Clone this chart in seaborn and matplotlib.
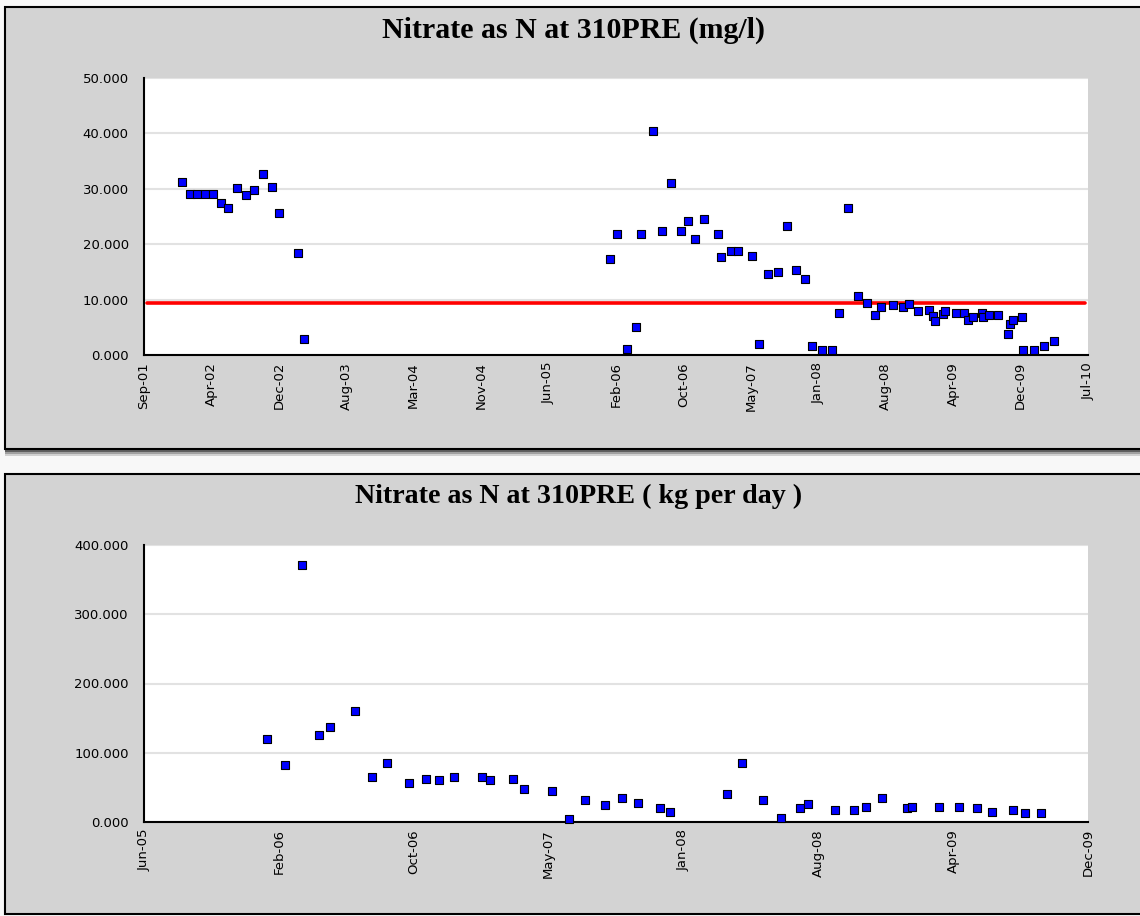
import matplotlib
matplotlib.use("Agg")
import matplotlib.pyplot as plt
import matplotlib.dates as mdates
from matplotlib.patches import Rectangle
from matplotlib.ticker import FixedLocator, MultipleLocator, FormatStrFormatter
import numpy as np
import pandas as pd
import seaborn as sns

# --- concentration (mg/l) ---
conc_dates = [
    "2002-01-08", "2002-02-06", "2002-03-01", "2002-03-29", "2002-04-25", "2002-05-23",
    "2002-06-16", "2002-07-15", "2002-08-14", "2002-09-12", "2002-10-13", "2002-11-12",
    "2002-12-06", "2003-02-09", "2003-03-02",
    "2006-01-10", "2006-02-04", "2006-03-09", "2006-04-08", "2006-04-26", "2006-06-06",
    "2006-07-06", "2006-08-05", "2006-09-11", "2006-10-04", "2006-10-27", "2006-11-26",
    "2007-01-13", "2007-01-25", "2007-03-01", "2007-03-23", "2007-05-10", "2007-06-03",
    "2007-07-03", "2007-08-06", "2007-09-07", "2007-10-07", "2007-11-06", "2007-11-30",
    "2008-01-05", "2008-02-09", "2008-03-02", "2008-04-01", "2008-05-07", "2008-06-05",
    "2008-07-04", "2008-07-24", "2008-09-03", "2008-10-07", "2008-10-27", "2008-11-26",
    "2009-01-05", "2009-01-16", "2009-01-26", "2009-02-20", "2009-03-01", "2009-04-06",
    "2009-05-04", "2009-05-18", "2009-06-04", "2009-07-03", "2009-07-06", "2009-07-29",
    "2009-08-27", "2009-09-30", "2009-10-06", "2009-10-19", "2009-11-17", "2009-11-21",
    "2009-12-27", "2010-02-01", "2010-03-08",
]
conc_values = [
    31.3, 29.1, 29.1, 29.1, 29.1, 27.5,
    26.6, 30.1, 28.9, 29.8, 32.6, 30.4,
    25.7, 18.5, 2.9,
    17.3, 21.9, 1.0, 5.05, 21.9, 40.5,
    22.3, 31.0, 22.3, 24.2, 21.0, 24.5,
    21.9, 17.6, 18.8, 18.8, 17.9, 1.9,
    14.7, 15.0, 23.2, 15.4, 13.8, 1.55,
    0.83, 0.83, 7.5, 26.6, 10.7, 9.4,
    7.2, 8.7, 9.1, 8.7, 9.2, 7.9,
    8.2, 7.1, 6.1, 7.4, 8.0, 7.5,
    7.5, 6.4, 6.9, 7.5, 6.8, 7.2,
    7.2, 3.8, 5.6, 6.3, 6.9, 0.9,
    0.9, 1.6, 2.6,
]
guideline = 9.4
conc_ticks = ["Sep-01", "Apr-02", "Dec-02", "Aug-03", "Mar-04", "Nov-04", "Jun-05", "Feb-06",
              "Oct-06", "May-07", "Jan-08", "Aug-08", "Apr-09", "Dec-09", "Jul-10"]

# --- load (kg per day) ---
load_dates = [
    "2006-01-01", "2006-02-01", "2006-03-04", "2006-04-01", "2006-04-21", "2006-06-03",
    "2006-07-03", "2006-07-30", "2006-09-05", "2006-10-05", "2006-10-27", "2006-11-23",
    "2007-01-11", "2007-01-25", "2007-03-05", "2007-03-25", "2007-05-13", "2007-06-11",
    "2007-07-09", "2007-08-13", "2007-09-11", "2007-10-10", "2007-11-16", "2007-12-04",
    "2008-03-12", "2008-04-08", "2008-05-14", "2008-06-14", "2008-07-17", "2008-07-31",
    "2008-09-17", "2008-10-19", "2008-11-09", "2008-12-07", "2009-01-20", "2009-01-29",
    "2009-03-17", "2009-04-21", "2009-05-22", "2009-06-17", "2009-07-24", "2009-08-14",
    "2009-09-10",
]
load_values = [
    120, 82, 371, 125, 137, 160,
    65, 85, 57, 62, 60, 65,
    65, 60, 62, 47, 45, 5,
    32, 24.5, 34, 27, 20, 15,
    40, 85, 32, 6, 20, 26,
    17, 17, 22, 34, 20, 22,
    22, 22, 20, 15, 17, 12.5,
    12.5,
]
load_ticks = ["Jun-05", "Feb-06", "Oct-06", "May-07", "Jan-08", "Aug-08", "Apr-09", "Dec-09"]

conc_df = pd.DataFrame({"date": pd.to_datetime(conc_dates), "value": conc_values})
load_df = pd.DataFrame({"date": pd.to_datetime(load_dates), "value": load_values})

sns.set_style("white")
plt.rcParams["font.family"] = ["DejaVu Sans"]
plt.rcParams["text.color"] = "black"

W, H = 1140, 916
fig = plt.figure(figsize=(W / 100, H / 100), dpi=100)
fig.patch.set_facecolor("#f8f8f8")

bg = "#d3d3d3"


def panel(x0, y0, x1, y1, shadow=True):
    # pixel coords, y measured from the top
    if shadow:
        for off, col in [(7, "#d0d0d0"), (5, "#a0a0a0"), (3, "#606060")]:
            fig.patches.append(Rectangle((x0 / W, 1 - (y1 + off) / H),
                                         (x1 - x0) / W, (y1 - y0) / H,
                                         transform=fig.transFigure,
                                         facecolor=col, edgecolor="none", zorder=0))
    fig.patches.append(Rectangle((x0 / W, 1 - y1 / H), (x1 - x0) / W, (y1 - y0) / H,
                                 transform=fig.transFigure, facecolor=bg,
                                 edgecolor="black", linewidth=1.5, zorder=1))


panel(5, 7, 1142, 449, shadow=True)
panel(5, 474, 1142, 914, shadow=False)


def make_axes(top, bottom):
    left, right = 144, 1088
    return fig.add_axes([left / W, 1 - bottom / H, (right - left) / W, (bottom - top) / H])


def style(ax, start, end, labels, ymax, ystep):
    x0 = mdates.date2num(pd.Timestamp(start))
    x1 = mdates.date2num(pd.Timestamp(end))
    ax.set_xlim(x0, x1)
    ax.set_ylim(0, ymax)
    ax.xaxis.set_major_locator(FixedLocator(np.linspace(x0, x1, len(labels))))
    ax.set_xticklabels(labels, rotation=90, fontsize=9.5)
    ax.yaxis.set_major_locator(MultipleLocator(ystep))
    ax.yaxis.set_minor_locator(MultipleLocator(ystep / 2))
    ax.yaxis.set_major_formatter(FormatStrFormatter("%.3f"))
    for lab in ax.get_yticklabels():
        lab.set_fontsize(9.5)
    ax.tick_params(axis="both", which="both", direction="in", length=7, width=1.3,
                   color="black", labelcolor="black")
    ax.tick_params(axis="y", pad=11)
    ax.tick_params(axis="x", pad=5)
    ax.grid(axis="y", which="major", color="#e2e2e2", linewidth=1.5)
    ax.set_axisbelow(True)
    for side in ["top", "right"]:
        ax.spines[side].set_visible(False)
    for side in ["left", "bottom"]:
        ax.spines[side].set_color("black")
        ax.spines[side].set_linewidth(1.5)
    ax.set_xlabel("")
    ax.set_ylabel("")
    ax.set_facecolor("white")


ax1 = make_axes(78, 355)
ax1.set_zorder(3)
ax1.axhline(guideline, xmin=0.003, xmax=0.997, color="#ff0000", linewidth=2.6, zorder=2)
sns.scatterplot(data=conc_df, x="date", y="value", ax=ax1, marker="s", s=36,
                color="#0000ff", edgecolor="black", linewidth=0.8, zorder=3, clip_on=False)
style(ax1, "2001-09-01", "2010-07-01", conc_ticks, 50, 10)

ax2 = make_axes(545, 822)
ax2.set_zorder(3)
sns.scatterplot(data=load_df, x="date", y="value", ax=ax2, marker="s", s=36,
                color="#0000ff", edgecolor="black", linewidth=0.8, zorder=3, clip_on=False)
style(ax2, "2005-06-01", "2009-12-01", load_ticks, 400, 100)

fig.text(574 / W, 1 - 30 / H, "Nitrate as N at 310PRE (mg/l)", ha="center", va="center",
         fontsize=21.5, fontweight="bold", family="Liberation Serif", color="black", zorder=5)
fig.text(579 / W, 1 - 496 / H, "Nitrate as N at 310PRE ( kg per day )", ha="center", va="center",
         fontsize=20.2, fontweight="bold", family="Liberation Serif", color="black", zorder=5)

plt.savefig("out.png", dpi=100, facecolor=fig.get_facecolor())
plt.close()
